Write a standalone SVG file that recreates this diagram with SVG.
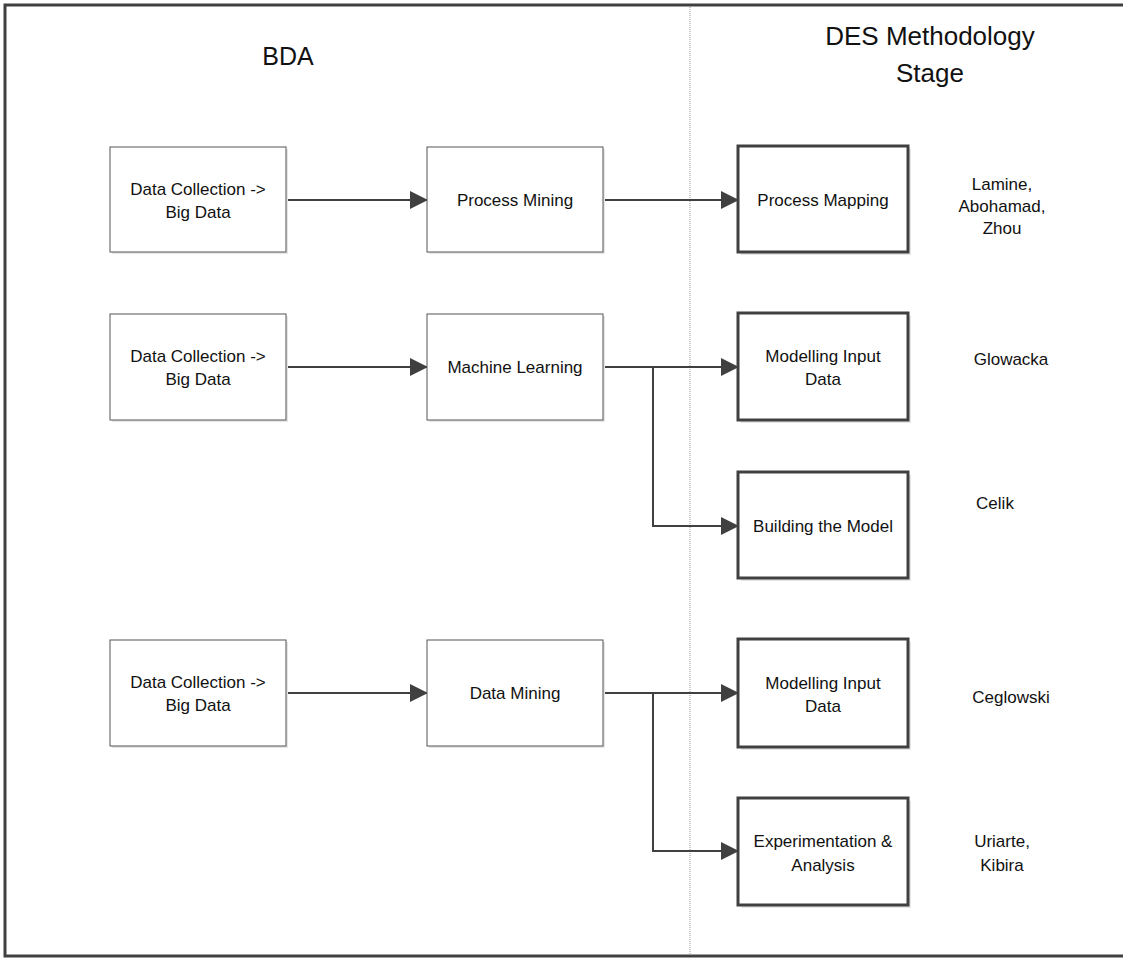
<svg xmlns="http://www.w3.org/2000/svg" width="1123" height="958" viewBox="0 0 1123 958">
<style>
text{font-family:"Liberation Sans",Arial,sans-serif;fill:#111;text-anchor:middle}
.t{font-size:17px}
.h{font-size:25px}
.thin{fill:#fff;stroke:#555;stroke-width:1}
.thick{fill:#fff;stroke:#404040;stroke-width:3}
.sh{fill:#e6e6e6}
.c{fill:none;stroke:#404040;stroke-width:2}
</style>
<defs>
<marker id="arr" markerWidth="9" markerHeight="9" refX="8.5" refY="4.5" orient="auto" markerUnits="strokeWidth">
<path d="M0,0 L9,4.5 L0,9 Z" fill="#404040"/>
</marker>
</defs>
<rect width="1123" height="958" fill="#fff"/>
<rect x="5" y="5" width="1130" height="951" fill="none" stroke="#404040" stroke-width="3"/>
<line x1="690" y1="7" x2="690" y2="955" stroke="#999" stroke-width="1" stroke-dasharray="1,1"/>
<g id="headings">
<text class="h" x="288" y="65">BDA</text>
<text class="h" x="930" y="45" style="font-size:26px">DES Methodology</text>
<text class="h" x="930" y="82" style="font-size:26px">Stage</text>
</g>
<g id="connectors">
<line class="c" x1="286" y1="200" x2="427" y2="200" marker-end="url(#arr)"/>
<line class="c" x1="603" y1="200" x2="738" y2="200" marker-end="url(#arr)"/>
<line class="c" x1="286" y1="367" x2="427" y2="367" marker-end="url(#arr)"/>
<line class="c" x1="603" y1="367" x2="738" y2="367" marker-end="url(#arr)"/>
<polyline class="c" points="653,367 653,526 738,526" marker-end="url(#arr)"/>
<line class="c" x1="286" y1="693" x2="427" y2="693" marker-end="url(#arr)"/>
<line class="c" x1="603" y1="693" x2="738" y2="693" marker-end="url(#arr)"/>
<polyline class="c" points="653,693 653,851 738,851" marker-end="url(#arr)"/>
</g>
<g id="dc1"><rect class="sh" x="112" y="149" width="176" height="105"/><rect class="thin" x="110" y="147" width="176" height="105"/><text class="t" x="198" y="195">Data Collection -&gt;</text><text class="t" x="198" y="218">Big Data</text></g>
<g id="pm"><rect class="sh" x="429" y="149" width="176" height="105"/><rect class="thin" x="427" y="147" width="176" height="105"/><text class="t" x="515" y="206">Process Mining</text></g>
<g id="pmap"><rect class="sh" x="741" y="149" width="170" height="106"/><rect class="thick" x="738" y="146" width="170" height="106"/><text class="t" x="823" y="206">Process Mapping</text></g>
<g id="a1"><text class="t" x="1002" y="190">Lamine,</text><text class="t" x="1002" y="212">Abohamad,</text><text class="t" x="1002" y="234">Zhou</text></g>
<g id="dc2"><rect class="sh" x="112" y="316" width="176" height="106"/><rect class="thin" x="110" y="314" width="176" height="106"/><text class="t" x="198" y="362">Data Collection -&gt;</text><text class="t" x="198" y="385">Big Data</text></g>
<g id="ml"><rect class="sh" x="429" y="316" width="176" height="106"/><rect class="thin" x="427" y="314" width="176" height="106"/><text class="t" x="515" y="373">Machine Learning</text></g>
<g id="mid1"><rect class="sh" x="741" y="316" width="170" height="107"/><rect class="thick" x="738" y="313" width="170" height="107"/><text class="t" x="823" y="362">Modelling Input</text><text class="t" x="823" y="385">Data</text></g>
<g id="a2"><text class="t" x="1011" y="365">Glowacka</text></g>
<g id="btm"><rect class="sh" x="741" y="475" width="170" height="106"/><rect class="thick" x="738" y="472" width="170" height="106"/><text class="t" x="823" y="532">Building the Model</text></g>
<g id="a3"><text class="t" x="995" y="509">Celik</text></g>
<g id="dc3"><rect class="sh" x="112" y="642" width="176" height="106"/><rect class="thin" x="110" y="640" width="176" height="106"/><text class="t" x="198" y="688">Data Collection -&gt;</text><text class="t" x="198" y="711">Big Data</text></g>
<g id="dm"><rect class="sh" x="429" y="642" width="176" height="106"/><rect class="thin" x="427" y="640" width="176" height="106"/><text class="t" x="515" y="699">Data Mining</text></g>
<g id="mid2"><rect class="sh" x="741" y="642" width="170" height="108"/><rect class="thick" x="738" y="639" width="170" height="108"/><text class="t" x="823" y="689">Modelling Input</text><text class="t" x="823" y="712">Data</text></g>
<g id="a4"><text class="t" x="1011" y="703">Ceglowski</text></g>
<g id="ea"><rect class="sh" x="741" y="801" width="170" height="107"/><rect class="thick" x="738" y="798" width="170" height="107"/><text class="t" x="823" y="847">Experimentation &amp;</text><text class="t" x="823" y="871">Analysis</text></g>
<g id="a5"><text class="t" x="1002" y="847">Uriarte,</text><text class="t" x="1002" y="871">Kibira</text></g>
</svg>
